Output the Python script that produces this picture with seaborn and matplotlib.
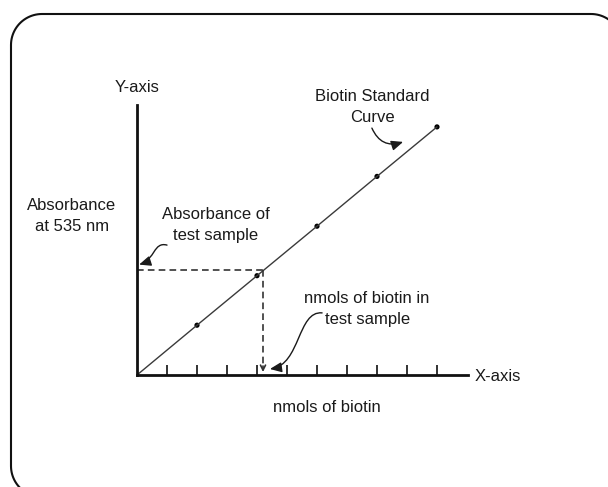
import matplotlib
matplotlib.use("Agg")
import matplotlib.pyplot as plt
from matplotlib.patches import FancyArrowPatch, PathPatch
from matplotlib.path import Path
import numpy as np
import pandas as pd
import seaborn as sns

# Standard curve: nmols of biotin vs. absorbance (arbitrary plotting units)
nmols = [0, 2, 4, 6, 8, 10]
absorbance = [0, 1.66, 3.31, 4.96, 6.62, 8.27]
tick_positions = [1, 2, 3, 4, 5, 6, 7, 8, 9, 10]

# Test sample
sample_abs = 3.5
sample_nmol = 4.2

sns.set_style("white")
plt.rcParams["font.family"] = ["Liberation Sans", "DejaVu Sans"]

W, H = 608, 487
fig = plt.figure(figsize=(W / 100, H / 100), dpi=100)

# Pixel-space overlay for the rounded frame
bg = fig.add_axes([0, 0, 1, 1])
bg.set_xlim(0, W)
bg.set_ylim(H, 0)
bg.axis("off")


def rounded_rect(x0, y0, x1, y1, r, n=24):
    pts = []
    corners = [((x1 - r, y0 + r), -90, 0),
               ((x1 - r, y1 - r), 0, 90),
               ((x0 + r, y1 - r), 90, 180),
               ((x0 + r, y0 + r), 180, 270)]
    for (cx, cy), a0, a1 in corners:
        t = np.radians(np.linspace(a0, a1, n))
        pts += list(zip(cx + r * np.cos(t), cy + r * np.sin(t)))
    pts.append(pts[0])
    return Path(pts)


bg.add_patch(PathPatch(rounded_rect(11, 14, 622, 497, 31), fill=False,
                       edgecolor="#111111", linewidth=1.5))

# Main axes
ax = fig.add_axes([137 / W, (H - 375) / H, 331 / W, 270 / H])
ax.set_facecolor("none")
ax.set_xlim(0, 331 / 30)
ax.set_ylim(0, 9.0)

df = pd.DataFrame({"nmols": nmols, "absorbance": absorbance})
sns.lineplot(data=df, x="nmols", y="absorbance", ax=ax,
             color="#3a3a3a", linewidth=1.0)
sns.scatterplot(data=df.iloc[1:], x="nmols", y="absorbance", ax=ax,
                color="black", s=14, edgecolor="none")

for side in ["top", "right"]:
    ax.spines[side].set_visible(False)
for side in ["left", "bottom"]:
    ax.spines[side].set_linewidth(2.0)
    ax.spines[side].set_color("#111111")

ax.set_xticks(tick_positions)
ax.set_yticks([])
ax.tick_params(axis="x", direction="in", length=7, width=1.2,
               color="#111111", labelbottom=False, bottom=True)
ax.set_xlabel("")
ax.set_ylabel("")

# Dashed guides from the test sample absorbance to its nmols
dash = dict(color="#333333", linewidth=1.2, linestyle=(0, (4, 2.5)))
ax.plot([0, sample_nmol], [sample_abs, sample_abs], **dash)
ax.plot([sample_nmol, sample_nmol], [sample_abs, 0.22], **dash)
ax.annotate("", xy=(sample_nmol, 0.1), xytext=(sample_nmol, 0.3),
            arrowprops=dict(arrowstyle="->", color="#333333", lw=1.2,
                            mutation_scale=9, shrinkA=0, shrinkB=0))

fs = 12
txt = dict(fontsize=fs, color="#1a1a1a", clip_on=False, linespacing=1.45)
ax.text(0, 9.6, "Y-axis", ha="center", va="center", **txt)
ax.text(11.27, -0.05, "X-axis", ha="left", va="center", **txt)
ax.text(6.34, -1.07, "nmols of biotin", ha="center", va="center", **txt)
ax.text(-2.17, 5.3, "Absorbance\nat 535 nm", ha="center", va="center", **txt)
ax.text(2.63, 5.0, "Absorbance of\ntest sample", ha="center", va="center", **txt)
ax.text(7.67, 2.2, "nmols of biotin in\ntest sample", ha="center", va="center", **txt)
ax.text(7.85, 8.93, "Biotin Standard\nCurve", ha="center", va="center", **txt)

arrow_kw = dict(arrowstyle="-|>,head_length=0.7,head_width=0.3",
                mutation_scale=10, color="#1a1a1a", lw=1.0,
                shrinkA=0, shrinkB=0, clip_on=False)

# Curved pointer to the standard curve
ax.annotate("", xy=(8.87, 7.77), xytext=(7.83, 8.23),
            arrowprops=dict(connectionstyle="arc3,rad=0.45", **arrow_kw))


# S-shaped pointers to the test sample readings
def s_arrow(start, c1, c2, end):
    p = Path([start, c1, c2, end],
             [Path.MOVETO, Path.CURVE4, Path.CURVE4, Path.CURVE4])
    a = FancyArrowPatch(path=p, transform=ax.transData, **arrow_kw)
    ax.add_patch(a)


s_arrow((1.0, 4.33), (0.55, 4.45), (0.6, 3.85), (0.07, 3.68))
s_arrow((6.17, 2.07), (5.35, 2.15), (5.45, 0.35), (4.43, 0.2))

fig.savefig("out.png", dpi=100)
